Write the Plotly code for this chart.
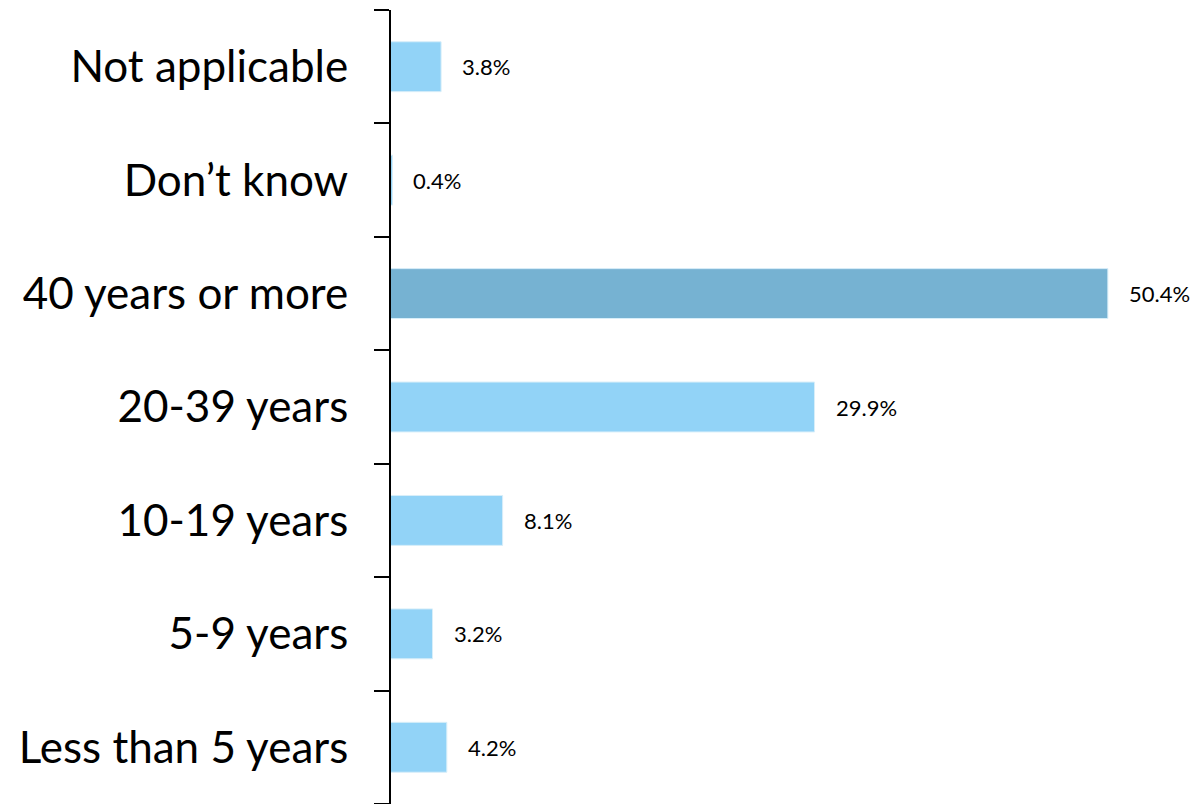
import plotly.graph_objects as go

categories = ["Less than 5 years", "5-9 years", "10-19 years", "20-39 years",
              "40 years or more", "Don\u2019t know", "Not applicable"]
values = [4.2, 3.2, 8.1, 29.9, 50.4, 0.4, 3.8]
labels = ["4.2%", "3.2%", "8.1%", "29.9%", "50.4%", "0.4%", "3.8%"]
highlight = "40 years or more"

light = "#92D3F7"
dark = "#76B2D2"
colors = [dark if c == highlight else light for c in categories]

fig = go.Figure()
fig.add_trace(go.Bar(
    y=categories, x=values, orientation="h",
    marker=dict(color=colors, line=dict(color="#D8EEF9", width=1)),
    width=0.44, hoverinfo="skip",
))

for c, v, t in zip(categories, values, labels):
    fig.add_annotation(x=v, y=c, text=t, showarrow=False, xanchor="left",
                       xshift=19, font=dict(family="Lato", size=22, color="black"))

fig.update_layout(
    width=1195, height=804,
    margin=dict(l=391, r=7, t=10, b=0),
    plot_bgcolor="white", paper_bgcolor="white",
    showlegend=False,
)
fig.update_xaxes(range=[0.3, 56.0], visible=False, showgrid=False, zeroline=False)
fig.update_yaxes(
    type="category", categoryorder="array", categoryarray=categories,
    showline=True, linecolor="black", linewidth=2,
    ticks="outside", tickson="boundaries", ticklen=15, tickwidth=2, tickcolor="black",
    showgrid=False, ticklabelstandoff=32,
    tickfont=dict(family="Lato", size=44, color="black"),
)
fig.write_html("out.html", config={"displayModeBar": False},
               post_script="document.body.style.margin='0';document.body.style.overflow='hidden';")
